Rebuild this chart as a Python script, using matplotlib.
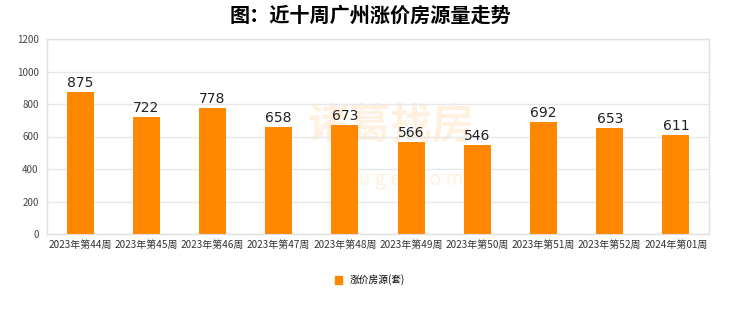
import matplotlib.pyplot as plt
from matplotlib.patches import Patch

plt.rcParams['font.family'] = ['Noto Sans CJK SC', 'DejaVu Sans']

weeks = ['2023年第44周', '2023年第45周', '2023年第46周', '2023年第47周', '2023年第48周',
         '2023年第49周', '2023年第50周', '2023年第51周', '2023年第52周', '2024年第01周']
counts = [875, 722, 778, 658, 673, 566, 546, 692, 653, 611]

orange = '#ff8800'

fig = plt.figure(figsize=(7.4, 3.12), dpi=100)
ax = fig.add_axes([47/740, 1 - 234/312, (709-47)/740, (234-39)/312])

x = range(len(weeks))
ax.bar(x, counts, width=0.41, color=orange, zorder=3)
for xi, v in zip(x, counts):
    ax.text(xi, v + 12, str(v), ha='center', va='bottom', fontsize=10,
            family='DejaVu Sans', color='#222222', zorder=4)

# faint watermark behind the bars
ax.text(0.52, 0.55, '诸葛找房', transform=ax.transAxes, ha='center', va='center',
        fontsize=30, color=orange, alpha=0.12, fontweight='bold', zorder=1)
ax.text(0.54, 0.28, 'z u g e . c o m', transform=ax.transAxes, ha='center', va='center',
        fontsize=14, color=orange, alpha=0.12, zorder=1)

ax.set_xlim(-0.5, len(weeks) - 0.5)
ax.set_ylim(0, 1200)
ax.set_yticks(range(0, 1201, 200))
ax.set_xticks(list(x))
ax.set_xticklabels(weeks, fontsize=7.2, color='#333333')
ax.tick_params(axis='y', labelsize=7, colors='#444444', length=0, pad=6)
ax.tick_params(axis='x', length=0, pad=4)
ax.grid(axis='y', color='#e8e8e8', linewidth=1, zorder=0)
for s in ax.spines.values():
    s.set_color('#e0e0e0')
    s.set_linewidth(1)

fig.suptitle('图：近十周广州涨价房源量走势', y=0.985, fontsize=14.5, fontweight='bold')

fig.legend(handles=[Patch(color=orange, label='涨价房源(套)')], loc='center',
           bbox_to_anchor=(370/740, 1 - 280/312), frameon=False, fontsize=7,
           handlelength=0.8, handleheight=0.8)

fig.savefig('out.png', dpi=100)
